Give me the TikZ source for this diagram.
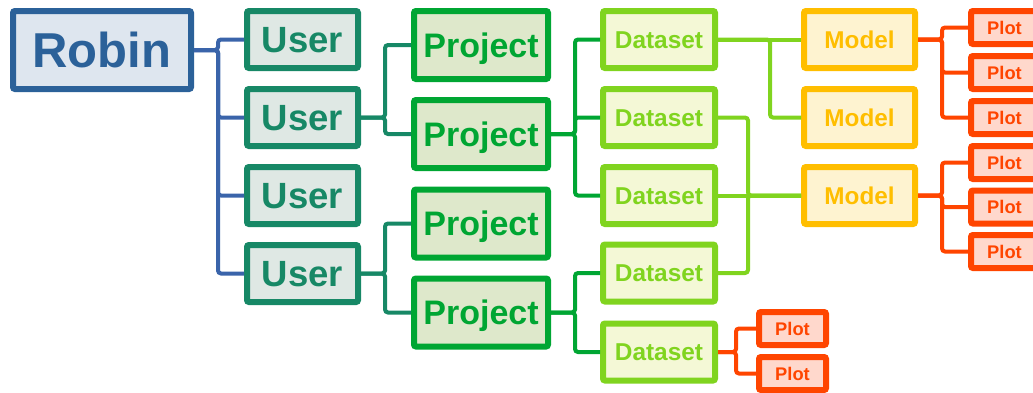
\documentclass[tikz,border=0pt]{standalone}
\usepackage{fontspec}
\setmainfont{Liberation Sans}

% level colours: border/text and fill
\definecolor{robinline}{HTML}{2B6199}
\definecolor{robinfill}{HTML}{DEE6EF}
\definecolor{robinlink}{HTML}{3A64AA}
\definecolor{userline}{HTML}{178866}
\definecolor{userfill}{HTML}{DFE8E4}
\definecolor{projline}{HTML}{00A633}
\definecolor{projfill}{HTML}{DEE8CB}
\definecolor{dataline}{HTML}{80D41F}
\definecolor{datafill}{HTML}{F4F8D6}
\definecolor{modelline}{HTML}{FFBE00}
\definecolor{modelfill}{HTML}{FEF3D0}
\definecolor{plotline}{HTML}{FF4500}
\definecolor{plotfill}{HTML}{FFD8CC}

\tikzset{
  box/.style={draw, line width=6pt, rounded corners=2pt, inner sep=0pt,
              text depth=0pt, align=center, font=\bfseries},
  robinbox/.style={box, draw=robinline, fill=robinfill, text=robinline,
              minimum width=178pt, minimum height=78pt,
              font=\bfseries\fontsize{49}{49}\selectfont, text height=35pt},
  userbox/.style={box, draw=userline, fill=userfill, text=userline,
              minimum width=111pt, minimum height=57pt,
              font=\bfseries\fontsize{36.5}{36.5}\selectfont, text height=26pt},
  projbox/.style={box, draw=projline, fill=projfill, text=projline,
              minimum width=134pt, minimum height=68pt,
              font=\bfseries\fontsize{34}{34}\selectfont, text height=24.3pt},
  databox/.style={box, draw=dataline, fill=datafill, text=dataline,
              minimum width=112pt, minimum height=57pt,
              font=\bfseries\fontsize{24.4}{24.4}\selectfont, text height=17.5pt},
  modelbox/.style={box, draw=modelline, fill=modelfill, text=modelline,
              minimum width=111pt, minimum height=57pt,
              font=\bfseries\fontsize{24.3}{24.3}\selectfont, text height=17.4pt},
  plotbox/.style={box, draw=plotline, fill=plotfill, text=plotline,
              minimum width=67pt, minimum height=33pt,
              font=\bfseries\fontsize{18.3}{18.3}\selectfont, text height=13.1pt},
  link/.style={line width=4pt, rounded corners=3pt},
}

\begin{document}
\begin{tikzpicture}[x=1pt, y=-1pt]
  \useasboundingbox (0,0) rectangle (1033,392);
  \clip (0,0) rectangle (1033,392);

  % root
  \node[robinbox] (robin) at (102,50) {Robin};

  % users
  \node[userbox] (u1) at (302.5,39.5)  {User};
  \node[userbox] (u2) at (302.5,117.5) {User};
  \node[userbox] (u3) at (302.5,195.5) {User};
  \node[userbox] (u4) at (302.5,273.5) {User};

  % projects
  \node[projbox] (p1) at (481,45)    {Project};
  \node[projbox] (p2) at (481,134)   {Project};
  \node[projbox] (p3) at (481,223.5) {Project};
  \node[projbox] (p4) at (481,312.5) {Project};

  % datasets
  \node[databox] (d1) at (659,39.5)  {Dataset};
  \node[databox] (d2) at (659,117.5) {Dataset};
  \node[databox] (d3) at (659,195.5) {Dataset};
  \node[databox] (d4) at (659,273)   {Dataset};
  \node[databox] (d5) at (659,352)   {Dataset};

  % models
  \node[modelbox] (m1) at (859.5,39.5)  {Model};
  \node[modelbox] (m2) at (859.5,117.5) {Model};
  \node[modelbox] (m3) at (859.5,195.5) {Model};

  % plots
  \node[plotbox] (q1) at (1004.5,27.5)  {Plot};
  \node[plotbox] (q2) at (1004.5,72.5)  {Plot};
  \node[plotbox] (q3) at (1004.5,117.5) {Plot};
  \node[plotbox] (q4) at (1004.5,162.5) {Plot};
  \node[plotbox] (q5) at (1004.5,207)   {Plot};
  \node[plotbox] (q6) at (1004.5,251.5) {Plot};
  \node[plotbox] (q7) at (792.5,328.5)  {Plot};
  \node[plotbox] (q8) at (792.5,373.5)  {Plot};

  % robin -> users
  \foreach \t in {u1,u2,u3,u4}
    \draw[link, robinlink] (robin.east) -- ([xshift=24pt]robin.east) |- (\t.west);

  % users -> projects
  \foreach \t in {p1,p2}
    \draw[link, userline] (u2.east) -- ([xshift=24pt]u2.east) |- (\t.west);
  \foreach \t in {p3,p4}
    \draw[link, userline] (u4.east) -- ([xshift=24pt]u4.east) |- (\t.west);

  % projects -> datasets
  \foreach \t in {d1,d2,d3}
    \draw[link, projline] (p2.east) -- ([xshift=24pt]p2.east) |- (\t.west);
  \foreach \t in {d4,d5}
    \draw[link, projline] (p4.east) -- ([xshift=24pt]p4.east) |- (\t.west);

  % datasets -> models
  \draw[link, dataline] (d1.east) -- (m1.west);
  \draw[link, dataline] (d1.east) -- ([xshift=52pt]d1.east) |- (m2.west);
  \draw[link, dataline] (d3.east) -- (m3.west);
  \draw[link, dataline] (d2.east) -- ([xshift=30pt]d2.east) |- (m3.west);
  \draw[link, dataline] (d4.east) -- ([xshift=30pt]d4.east) |- (m3.west);

  % models -> plots
  \foreach \t in {q1,q2,q3}
    \draw[link, plotline] (m1.east) -- ([xshift=24pt]m1.east) |- (\t.west);
  \foreach \t in {q4,q5,q6}
    \draw[link, plotline] (m3.east) -- ([xshift=24pt]m3.east) |- (\t.west);

  % dataset -> plots
  \foreach \t in {q7,q8}
    \draw[link, plotline] (d5.east) -- ([xshift=18pt]d5.east) |- (\t.west);
\end{tikzpicture}
\end{document}
